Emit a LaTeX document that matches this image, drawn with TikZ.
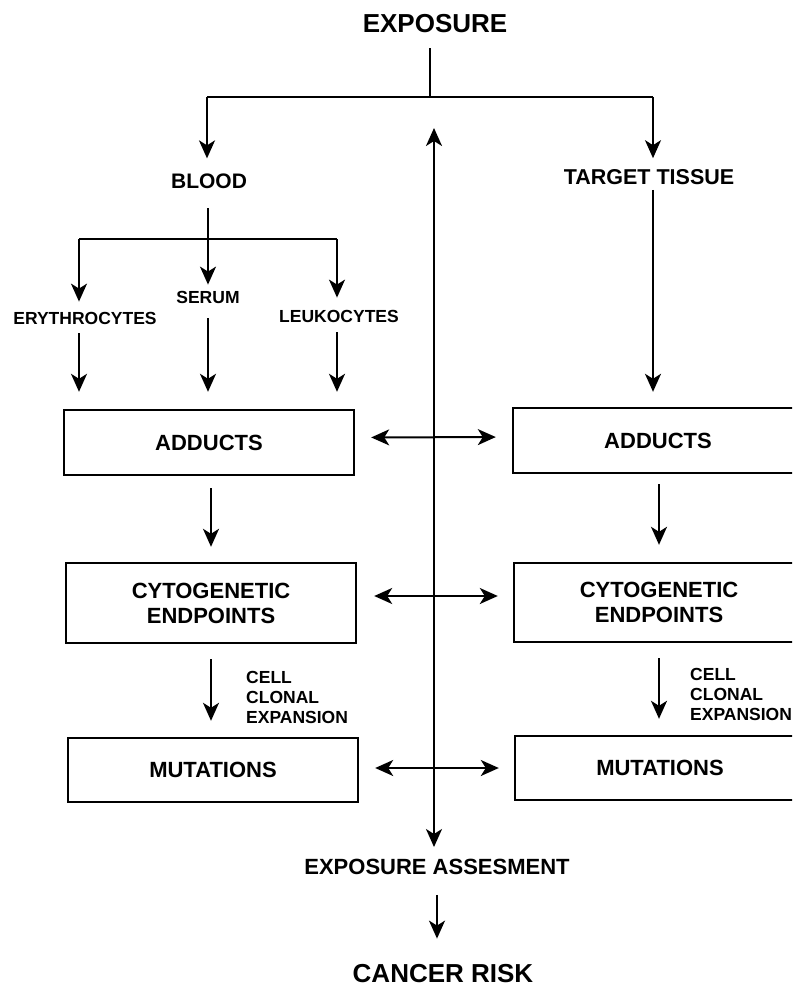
\documentclass[tikz,border=0pt]{standalone}
\usepackage{fontspec}
\setmainfont{Liberation Sans}
\usetikzlibrary{arrows.meta}
\begin{document}
\begin{tikzpicture}[x=1pt,y=-1pt,
  line/.style={line width=2pt},
  arr/.style={line width=2pt, -{Stealth[length=18pt,width=16pt,inset=5pt]}},
  darr/.style={line width=2pt, {Stealth[length=18pt,width=16pt,inset=5pt]}-{Stealth[length=18pt,width=16pt,inset=5pt]}},
  txt/.style={inner sep=0pt, font=\bfseries\fontsize{21}{25}\selectfont},
  mid/.style={inner sep=0pt, font=\bfseries\fontsize{22}{25}\selectfont},
  big/.style={inner sep=0pt, font=\bfseries\fontsize{26}{30}\selectfont},
  small/.style={inner sep=0pt, font=\bfseries\fontsize{17.5}{20}\selectfont, align=left},
  box/.style={draw, line width=2.4pt, minimum width=290pt, align=center, inner sep=0pt,
              font=\bfseries\fontsize{22}{25}\selectfont},
]
\useasboundingbox (0,0) rectangle (792,987);
\clip (0,0) rectangle (792,987);

% text nodes
\node[big] (expo) at (435,24) {EXPOSURE};
\node[txt] (blood) at (209,181) {BLOOD};
\node[txt, font=\bfseries\fontsize{21.5}{25}\selectfont] (target) at (649,177) {TARGET TISSUE};
\node[small] (ery) at (85,318) {ERYTHROCYTES};
\node[small] (serum) at (208,297) {SERUM};
\node[small] (leuko) at (339,316) {LEUKOCYTES};

% boxes
\node[box, minimum height=65pt] (addL) at (209,442.5) {ADDUCTS};
\node[box, minimum height=65pt] (addR) at (658,440.5) {ADDUCTS};
\node[box, minimum height=80pt] (cytoL) at (211,603) {CYTOGENETIC\\ENDPOINTS};
\node[box, minimum height=79pt] (cytoR) at (659,602.5) {CYTOGENETIC\\ENDPOINTS};
\node[box, minimum height=64pt] (mutL) at (213,770) {MUTATIONS};
\node[box, minimum height=64pt] (mutR) at (660,768) {MUTATIONS};

\node[small, anchor=west] (cellL) at (246,697) {CELL\\CLONAL\\EXPANSION};
\node[small, anchor=west] (cellR) at (690,694) {CELL\\CLONAL\\EXPANSION};

\node[mid] (assess) at (437,867) {EXPOSURE ASSESMENT};
\node[big] (cancer) at (443,974) {CANCER RISK};

% junctions
\coordinate (jTop) at (430,97);
\coordinate (jL) at (207,97);
\coordinate (jR) at (653,97);
\coordinate (jB) at (208,239);
\coordinate (jBL) at (79,239);
\coordinate (jBR) at (337,239);
\coordinate (cTop) at (434,128);

% top split
\draw[line, shorten <=15pt] (expo.south -| jTop) -- (jTop);
\draw[line] (jL) -- (jR);
\draw[arr, shorten >=15pt] (jL) -- (blood.north -| jL);
\draw[arr, shorten >=11pt] (jR) -- (target.north -| jR);

% blood split
\draw[arr, shorten <=19.5pt, shorten >=6pt] (blood.south -| jB) -- (serum.north -| jB);
\draw[line] (jBL) -- (jBR);
\draw[arr, shorten >=10pt] (jBL) -- (ery.north -| jBL);
\draw[arr, shorten >=12pt] (jBR) -- (leuko.north -| jBR);

% into adducts
\draw[arr, shorten <=9pt, shorten >=17pt] (ery.south -| jBL) -- (addL.north -| jBL);
\draw[arr, shorten <=15pt, shorten >=17pt] (serum.south -| jB) -- (addL.north -| jB);
\draw[arr, shorten <=10pt, shorten >=17pt] (leuko.south -| jBR) -- (addL.north -| jBR);
\draw[arr, shorten <=5pt, shorten >=15pt] (target.south -| jR) -- (addR.north -| jR);

% vertical chain
\draw[arr, shorten <=12pt, shorten >=15pt] (addL.south -| cytoL.north) -- (cytoL.north);
\draw[arr, shorten <=10pt, shorten >=17pt] (addR.south -| cytoR.north) -- (cytoR.north);
\draw[arr, shorten <=15pt, shorten >=16pt] (cytoL.south) -- (mutL.north -| cytoL.south);
\draw[arr, shorten <=15pt, shorten >=16pt] (cytoR.south) -- (mutR.north -| cytoR.south);

% horizontal double arrows
\draw[darr, shorten <=16pt, shorten >=16pt] ([yshift=5pt]addL.east) -- ([yshift=3.5pt]addR.west);
\draw[darr, shorten <=17pt, shorten >=15pt] ([yshift=7pt]cytoL.east) -- ([yshift=6.5pt]cytoR.west);
\draw[darr, shorten <=16pt, shorten >=15pt] ([yshift=2pt]mutL.east) -- (mutR.west);

% central double arrow
\draw[darr, shorten >=12pt] (cTop) -- (assess.north -| cTop);

% to cancer risk
\draw[arr, shorten <=20pt, shorten >=26pt] (assess.south) -- (cancer.north -| assess.south);
\end{tikzpicture}
\end{document}
